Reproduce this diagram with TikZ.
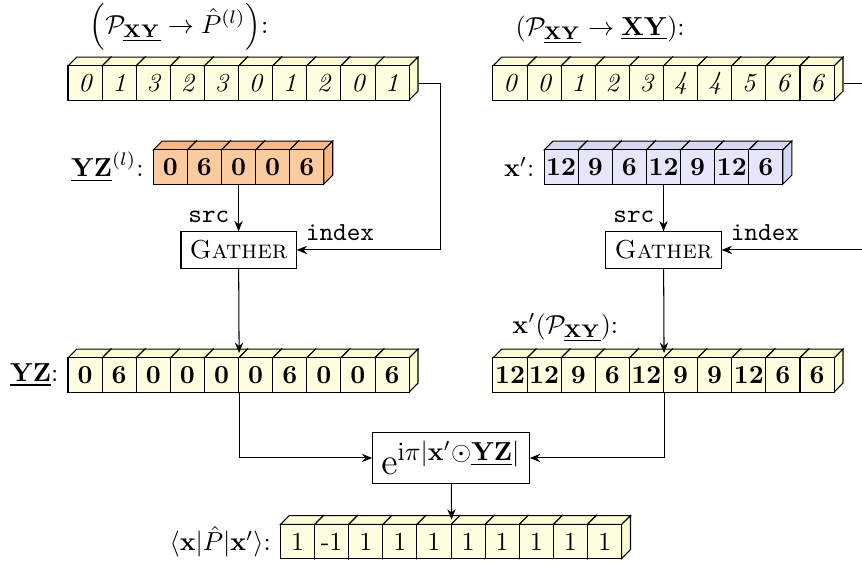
\documentclass[tikz,border=0pt]{standalone}
\usepackage{amsmath}
\usepackage{tikz}
\usetikzlibrary{arrows, arrows.meta, positioning}
\definecolor{yel}{HTML}{FFFFE0}
\definecolor{yeldk}{HTML}{FDFDD2}
\definecolor{org}{HTML}{FBCBA0}
\definecolor{orgdk}{HTML}{F9B882}
\definecolor{lav}{HTML}{E6E6FA}
\definecolor{lavdk}{HTML}{D8D8F3}
\newcommand{\bu}[1]{\underline{\mathbf{#1}}}
\newcommand{\cuberow}[6]{%
  \foreach \v [count=\i] in {#6} {
    \pgfmathsetmacro{\cx}{#2+(\i-0.5)*0.461}
    \filldraw[fill=#4dk] (\cx-0.2305,#3+0.2305) -- ++(0.461,0) -- ++(0.12,0.12) -- ++(-0.461,0) -- cycle;
    \filldraw[fill=#4dk] (\cx+0.2305,#3-0.2305) -- ++(0,0.461) -- ++(0.12,0.12) -- ++(0,-0.461) -- cycle;
    \node[draw, fill=#4, minimum size=0.461cm, inner sep=0pt, font=#5] (#1-\i) at (\cx,#3) {\v};
  }}

\begin{document}
\begin{tikzpicture}[>={Stealth[length=4pt, width=3.2pt, inset=1.3pt]}]
\useasboundingbox (0,0) rectangle (11.649,-7.649);
\node (tl) at (2.42,-0.36) {$\left(\mathcal{P}_{\bu{XY}} \rightarrow \hat{P}^{(l)}\right)$:};
\node (tr) at (8.11,-0.40) {$(\mathcal{P}_{\bu{XY}} \rightarrow \bu{XY})$:};
\cuberow{pl}{0.919}{-1.122}{yel}{\itshape}{0,1,3,2,3,0,1,2,0,1}
\cuberow{pxy}{6.662}{-1.122}{yel}{\itshape}{0,0,1,2,3,4,4,5,6,6}
\cuberow{yzl}{2.0715}{-2.257}{org}{\bfseries}{0,6,0,0,6}
\node[left=0pt of yzl-1] (yzllab) {$\bu{YZ}^{(l)}$:};
\cuberow{xp}{7.3535}{-2.257}{lav}{\bfseries}{12,9,6,12,9,12,6}
\node[left=0pt of xp-1] (xplab) {$\mathbf{x}'$:};
\node[draw] (gl) at (3.224,-3.378) {\textsc{Gather}};
\node[draw] (gr) at (8.967,-3.378) {\textsc{Gather}};
\cuberow{yz}{0.919}{-5.068}{yel}{\bfseries}{0,6,0,0,0,0,6,0,0,6}
\node[left=0pt of yz-1] (yzlab) {$\bu{YZ}$:};
\node (xpplab) at (7.64,-4.43) {$\mathbf{x}'(\mathcal{P}_{\bu{XY}})$:};
\cuberow{xpp}{6.662}{-5.068}{yel}{\bfseries}{12,12,9,6,12,9,9,12,6,6}
\node[draw, font=\Large] (ph) at (6.0955,-6.189) {$\mathrm{e}^{\mathrm{i}\pi|\mathbf{x}'\odot\bu{YZ}|}$};
\cuberow{out}{3.7905}{-7.318}{yel}{\upshape}{1,-1,1,1,1,1,1,1,1,1}
\node[left=0pt of out-1] (outlab) {$\langle\mathbf{x}|\hat{P}|\mathbf{x}'\rangle$:};
\draw[->] (yzl-3) -- node[pos=.69, left] (srcl) {\texttt{src}} (gl);
\draw[->] (xp-4) -- node[pos=.69, left] (srcr) {\texttt{src}} (gr);
\draw[->] ([xshift=0.12cm]pl-10.east) -- ++(0.297,0) |- node[at end, above right] (idxl) {\texttt{index}} (gl);
\draw[->] ([xshift=0.12cm]pxy-10.east) -- ++(0.6,0) |- node[at end, above right] (idxr) {\texttt{index}} (gr);
\draw[->] (gl) -- ([yshift=1.7pt]yz-5.north east);
\draw[->] (gr) -- ([yshift=1.7pt]xpp-5.north east);
\draw[->] (yz-5.south east) |- (ph);
\draw[->] (xpp-5.south east) |- (ph);
\draw[->] (ph) -- ([yshift=1.7pt]out-5.north east);
\end{tikzpicture}
\end{document}
